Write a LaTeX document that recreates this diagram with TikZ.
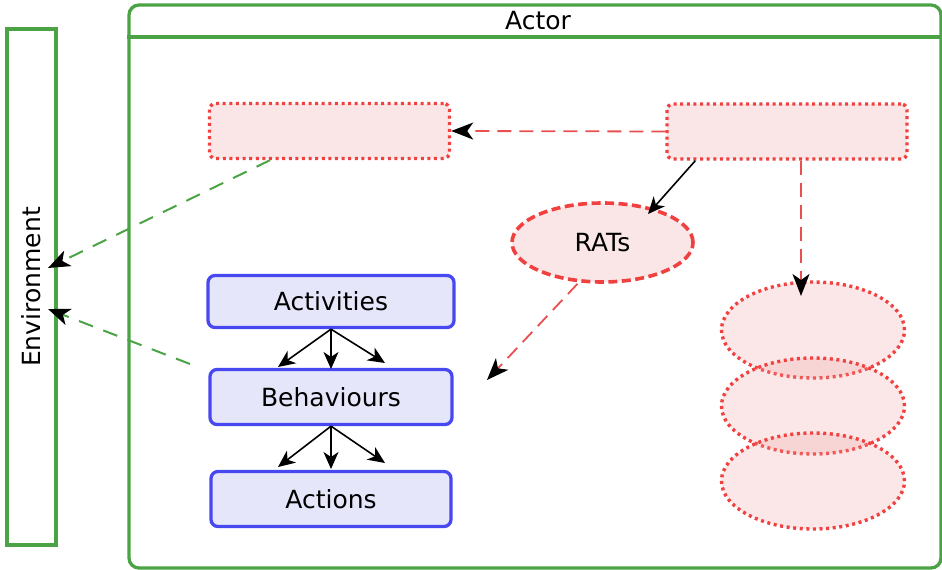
\documentclass[tikz,border=0pt]{standalone}
\usepackage{fontspec}
\setmainfont{DejaVu Sans}
\usepackage{xcolor}
\definecolor{ColG}{RGB}{76,163,69}
\definecolor{ColR}{RGB}{240,64,64}
\definecolor{ColD}{RGB}{232,80,80}
\definecolor{ColP}{RGB}{250,230,230}
\definecolor{ColQ}{RGB}{240,160,160}
\definecolor{ColB}{RGB}{72,72,240}
\definecolor{ColL}{RGB}{230,230,250}
\usepackage{tikz}
\usetikzlibrary{shapes.geometric}
\usetikzlibrary{shadows}
\usetikzlibrary{arrows.meta}
\tikzstyle{Frame}=[draw=ColG,line width=3.3pt,inner sep=0pt]
\tikzstyle{Store}=[draw=ColR,fill=ColP,line width=3.4pt,dash pattern=on 3pt off 3.6pt,
rounded corners=6pt,minimum width=240pt,minimum height=55pt,inner sep=0pt]
\tikzstyle{Rats}=[ellipse,draw=ColR,fill=ColP,line width=3.6pt,dash pattern=on 9pt off 4.5pt,
minimum width=181pt,minimum height=79pt,inner sep=0pt]
\tikzstyle{Layer}=[ellipse,draw=ColR,fill=ColQ,fill opacity=0.25,line width=3.4pt,
dash pattern=on 3pt off 3.6pt,minimum width=183pt,minimum height=96pt,inner sep=0pt]
\tikzstyle{Level}=[draw=ColB,fill=ColL,line width=3.3pt,rounded corners=7pt,
minimum width=242pt,minimum height=54pt,inner sep=0pt]
\tikzstyle{Link}=[-{Stealth[black,length=17pt,width=15pt,inset=5pt]},draw=black,line width=1.6pt]
\tikzstyle{Flow}=[-{Stealth[black,length=22pt,width=17pt,inset=6pt]},draw=ColD,line width=1.8pt,
dash pattern=on 14pt off 8pt]
\tikzstyle{EnvFlow}=[-{Stealth[black,length=22pt,width=17pt,inset=6pt]},draw=ColG,line width=2pt,
dash pattern=on 15pt off 11pt]

\begin{document}
\begin{tikzpicture}[x=1pt,y=-1pt,font=\fontsize{25}{30}\selectfont]
        \useasboundingbox (0,0) rectangle (942,570);
        % frames
        \node[Frame,fill=white,rotate=90,minimum width=516pt,minimum height=49pt,
          drop shadow={shadow xshift=1.5pt,shadow yshift=-1.5pt,fill=black!45}]
          (env)at(31.5,287){Environment};
        \node[Frame,rounded corners=10pt,minimum width=812pt,minimum height=563pt]
          (actor)at(535,286.5){};
        \draw[draw=ColG,line width=3.3pt](actor.west|-0,37)--(actor.east|-0,37);
        \node(title)at(538,21){Actor};
        % red parts
        \node[Store](box1)at(329.5,131){};
        \node[Store](box2)at(787,131.5){};
        \node[Rats](rats)at(602.5,242.5){RATs};
        \node[Layer](lay1)at(813,330){};
        \node[Layer](lay2)at(813,406){};
        \node[Layer](lay3)at(813,481){};
        % blue parts
        \node[Level,minimum width=246pt,minimum height=52pt](act)at(331,301.5){Activities};
        \node[Level,minimum height=55pt](beh)at(331,397){Behaviours};
        \node[Level,minimum width=240pt,minimum height=55pt](acn)at(331,499){Actions};
        % free ends
        \coordinate(ratsTip)at(648,214);
        \coordinate(freeTip)at(487,380);
        \coordinate(layTip)at(801,296);
        \coordinate(envTip1)at(48,268);
        \coordinate(envTip2)at(48,309);
        \coordinate(behOut)at(190,364);
        \coordinate(a1)at(278,367);
        \coordinate(a2)at(331,369);
        \coordinate(a3)at(385,363);
        \coordinate(b1)at(278,467);
        \coordinate(b2)at(331,469);
        \coordinate(b3)at(385,463);
        % connectors
        \draw[Flow](box2.west)--(box1.east);
        \draw[Link]([xshift=30pt]box2.south west)--(ratsTip);
        \draw[Flow]([xshift=14pt]box2.south)--(layTip);
        \draw[Flow]([xshift=-25pt]rats.south)--(freeTip);
        \draw[EnvFlow]([xshift=-59.5pt]box1.south)--(envTip1);
        \draw[EnvFlow](behOut)--(envTip2);
        \foreach \t in {a1,a2,a3}
          \draw[Link](act.south)--(\t);
        \foreach \t in {b1,b2,b3}
          \draw[Link](beh.south)--(\t);
    \end{tikzpicture}
\end{document}
